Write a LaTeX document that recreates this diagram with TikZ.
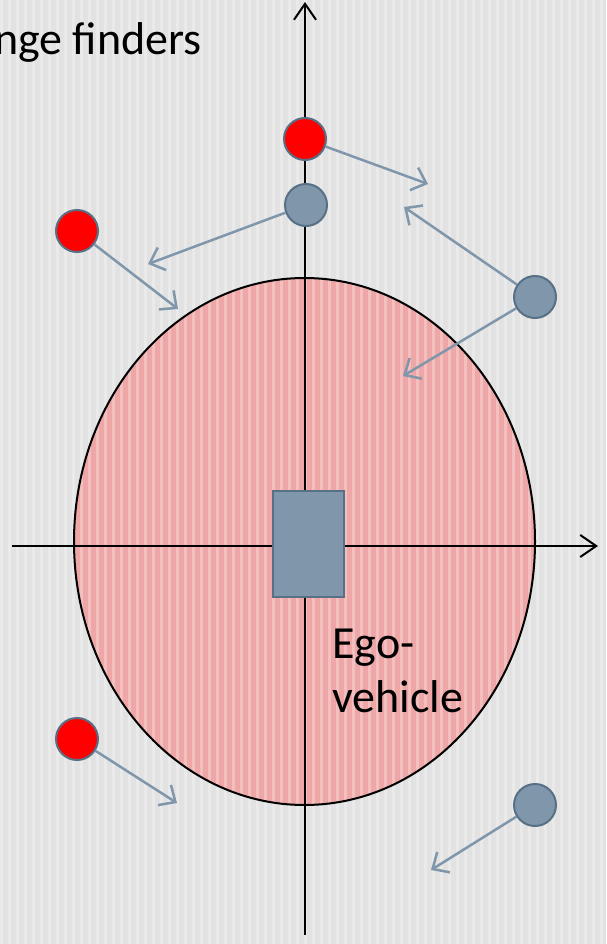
\documentclass[tikz,border=0pt]{standalone}
\usepackage{fontspec}
\setmainfont{Carlito}
\usetikzlibrary{arrows.meta}
\definecolor{steel}{RGB}{127,150,171}
\definecolor{steeldark}{RGB}{88,112,133}
\definecolor{zone}{RGB}{238,166,166}
\definecolor{paper}{RGB}{226,226,226}
\begin{document}
\begin{tikzpicture}[x=1pt,y=-1pt,
  every node/.style={font=\fontsize{46}{54}\selectfont},
  target/.style={circle,draw=steeldark,line width=2pt,minimum width=42pt,minimum height=40pt,inner sep=0pt},
  motion/.style={draw=steel,line width=2.5pt,-{Straight Barb[length=13pt,width=24pt,line width=2.5pt]}},
  axis/.style={draw=black,line width=2pt,-{Straight Barb[length=16pt,width=22pt,line width=2pt]}}]
\useasboundingbox (0,0) rectangle (606,944);
\fill[paper] (0,0) rectangle (606,944);
% detection zone
\fill[zone] (304.5,541.5) ellipse [x radius=230.5, y radius=263.5];
\foreach \s in {0,8,...,600}
  \fill[white,opacity=.3] (\s,0) rectangle (\s+3,944);
\draw[line width=2pt] (304.5,541.5) ellipse [x radius=230.5, y radius=263.5];
% axes
\coordinate (ybot) at (305,935);
\coordinate (ytop) at (305,2);
\coordinate (xleft) at (12,546);
\coordinate (xright) at (598,546);
\draw[axis] (ybot) -- (ytop);
\draw[axis] (xleft) -- (xright);
% ego vehicle
\node[draw=steeldark,line width=1.5pt,fill=steel,minimum width=71pt,minimum height=106pt,inner sep=0pt] (car) at (308.5,544) {};
\node[anchor=base west,inner sep=0pt] (ego) at (332,658) {Ego-};
\node[anchor=base west,inner sep=0pt] (veh) at (332,712) {vehicle};
\node[anchor=base east,inner sep=0pt] (title) at (202,55) {nge finders};
% targets
\node[target,fill=red] (r1) at (305,139) {};
\node[target,fill=steel] (b1) at (306,205) {};
\node[target,fill=red] (r2) at (77,231) {};
\node[target,fill=steel] (b2) at (535,297) {};
\node[target,fill=red] (r3) at (77,739) {};
\node[target,fill=steel] (b3) at (535,805) {};
% velocities
\coordinate (v1) at (428,184);
\coordinate (v2) at (148,264);
\coordinate (v3) at (178,309);
\coordinate (v4) at (404,207);
\coordinate (v5) at (403,376);
\coordinate (v6) at (177,803);
\coordinate (v7) at (431,870);
\draw[motion] (r1) -- (v1);
\draw[motion] (b1) -- (v2);
\draw[motion] (r2) -- (v3);
\draw[motion] (b2) -- (v4);
\draw[motion] (b2) -- (v5);
\draw[motion] (r3) -- (v6);
\draw[motion] (b3) -- (v7);
\end{tikzpicture}
\end{document}
